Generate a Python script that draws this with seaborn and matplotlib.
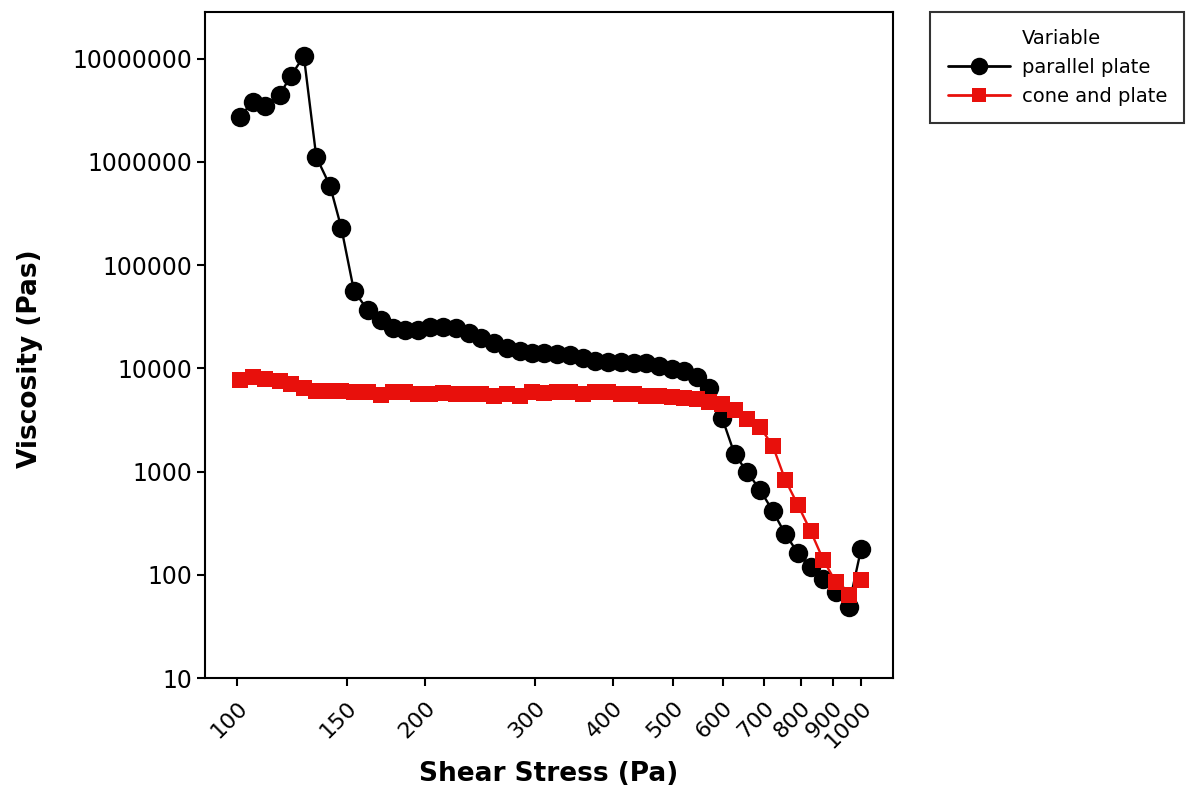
import numpy as np
import pandas as pd
import seaborn as sns
import matplotlib.pyplot as plt
from matplotlib.lines import Line2D
from matplotlib.ticker import FixedLocator, FuncFormatter, NullLocator

# shear stress (Pa), shared by both geometries
shear_stress = [101, 106, 111, 117, 122, 128, 134, 141, 147, 154,
                162, 170, 178, 186, 195, 204, 214, 224, 235, 246,
                258, 271, 284, 297, 311, 326, 342, 358, 375, 393,
                412, 432, 452, 474, 497, 520, 545, 571, 599, 627,
                657, 689, 722, 756, 792, 830, 870, 911, 955, 1000]

# viscosity (Pas)
parallel_plate = [2.73e6, 3.81e6, 3.49e6, 4.46e6, 6.81e6, 1.06e7, 1.12e6, 5.85e5, 2.29e5, 5.62e4,
                  3.68e4, 2.94e4, 2.46e4, 2.36e4, 2.36e4, 2.52e4, 2.52e4, 2.46e4, 2.20e4, 1.97e4,
                  1.76e4, 1.58e4, 1.48e4, 1.41e4, 1.41e4, 1.38e4, 1.35e4, 1.26e4, 1.18e4, 1.15e4,
                  1.15e4, 1.13e4, 1.13e4, 1.05e4, 9870, 9430, 8260, 6460, 3300, 1480,
                  990, 664, 415, 248, 163, 119, 91, 68, 49, 178]

cone_and_plate = [7730, 8310, 7900, 7550, 7060, 6460, 6080, 6080, 6000, 5900,
                  5900, 5520, 5900, 5900, 5650, 5650, 5800, 5650, 5650, 5650,
                  5450, 5650, 5450, 5850, 5750, 5850, 5850, 5650, 5850, 5850,
                  5650, 5650, 5450, 5450, 5250, 5200, 5000, 4750, 4500, 3950,
                  3240, 2700, 1770, 830, 475, 266, 139, 85, 64, 89]

x_ticks = [100, 150, 200, 300, 400, 500, 600, 700, 800, 900, 1000]
y_ticks = [10, 100, 1000, 10000, 100000, 1000000, 10000000]

series = {"parallel plate": parallel_plate, "cone and plate": cone_and_plate}
df = pd.concat([pd.DataFrame({"Shear Stress": shear_stress, "Viscosity": v, "Variable": k})
                for k, v in series.items()], ignore_index=True)

sns.set_style("ticks")
plt.rcParams["font.family"] = ["DejaVu Sans"]
plt.rcParams["text.color"] = "black"
plt.rcParams["axes.labelcolor"] = "black"
plt.rcParams["xtick.color"] = "black"
plt.rcParams["ytick.color"] = "black"

fig = plt.figure(figsize=(11.88, 7.97), dpi=100)
ax = fig.add_axes([0.1726, 0.1493, 0.5791, 0.8357])

colors = {"parallel plate": "black", "cone and plate": "#e8100c"}
markers = {"parallel plate": "o", "cone and plate": "s"}
sizes = {"parallel plate": 14, "cone and plate": 11}

for name in series:
    sub = df[df["Variable"] == name]
    sns.lineplot(data=sub, x="Shear Stress", y="Viscosity", ax=ax, color=colors[name],
                 marker=markers[name], markersize=sizes[name], markeredgewidth=0,
                 linewidth=1.7, legend=False, estimator=None, sort=False)

ax.set_xscale("log")
ax.set_yscale("log")
ax.set_xlim(88.9, 1125)
ax.set_ylim(10, 2.84e7)

ax.xaxis.set_major_locator(FixedLocator(x_ticks))
ax.xaxis.set_minor_locator(NullLocator())
ax.xaxis.set_major_formatter(FuncFormatter(lambda v, p: f"{int(round(v))}"))
ax.yaxis.set_major_locator(FixedLocator(y_ticks))
ax.yaxis.set_minor_locator(NullLocator())
ax.yaxis.set_major_formatter(FuncFormatter(lambda v, p: f"{int(round(v))}"))

ax.tick_params(axis="both", direction="out", length=6, width=1.5, color="black", labelcolor="black")
ax.tick_params(axis="y", labelsize=17)
ax.tick_params(axis="x", labelsize=16, pad=8)
for lab in ax.get_xticklabels():
    lab.set_rotation(45)
    lab.set_ha("right")
    lab.set_rotation_mode("anchor")

for s in ax.spines.values():
    s.set_linewidth(1.5)
    s.set_color("black")

ax.set_xlabel("Shear Stress (Pa)", fontsize=19, fontweight="bold", color="black")
ax.set_ylabel("Viscosity (Pas)", fontsize=19, fontweight="bold", color="black")
ax.xaxis.set_label_coords(0.5, -0.125)
ax.yaxis.set_label_coords(-0.235, 0.48)

handles = [Line2D([], [], linestyle="none", marker=None)]
labels = ["Variable"]
for name in series:
    handles.append(Line2D([], [], color=colors[name], marker=markers[name],
                          markersize=sizes[name] * 0.9, markeredgewidth=0, linewidth=2))
    labels.append(name)
leg = fig.legend(handles, labels, loc="upper left", bbox_to_anchor=(0.783, 0.985),
                 bbox_transform=fig.transFigure, fontsize=14, frameon=True, fancybox=False,
                 edgecolor="black", handlelength=3.2, handletextpad=0.6, borderpad=0.9,
                 labelspacing=0.5, borderaxespad=0)
leg.get_frame().set_linewidth(1.5)
for t in leg.get_texts():
    t.set_color("black")

fig.savefig("out.png", dpi=100)
